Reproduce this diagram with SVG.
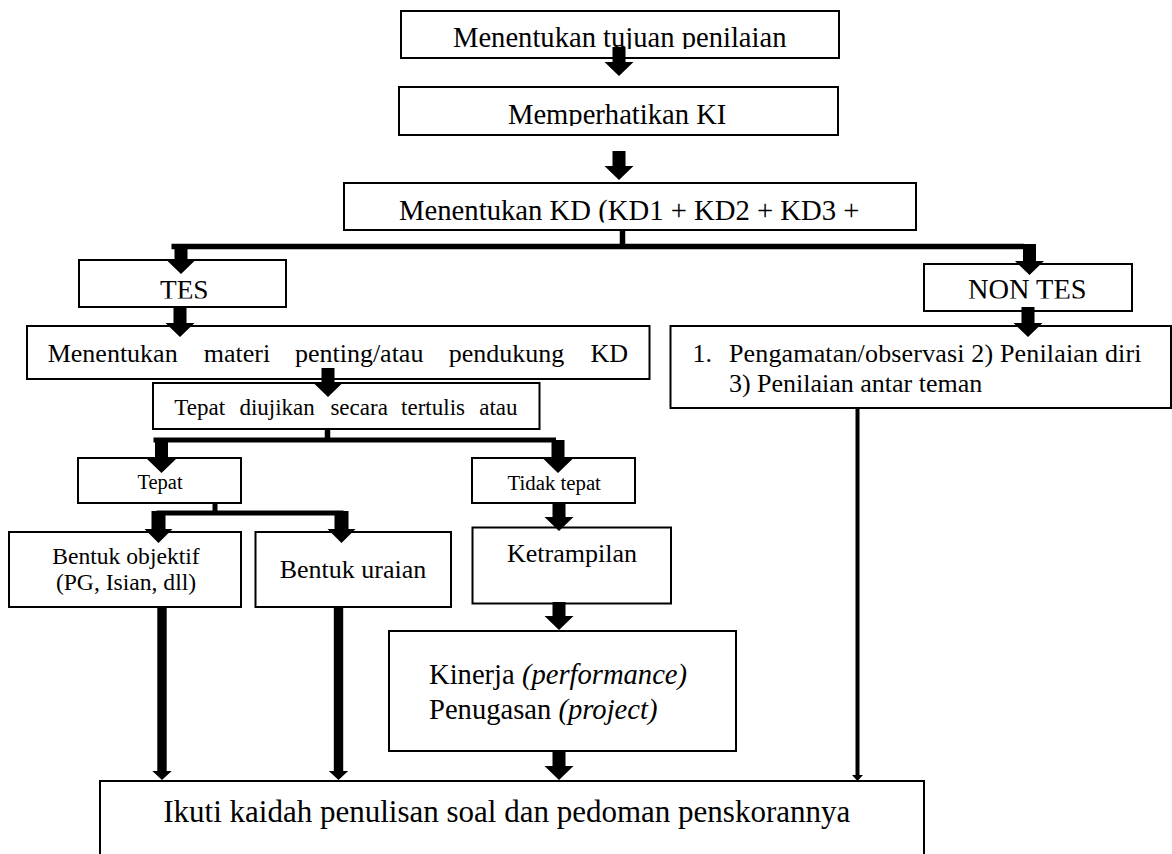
<svg xmlns="http://www.w3.org/2000/svg" width="1172" height="854" viewBox="0 0 1172 854">
<style>
  .box{fill:#fff;stroke:#000;stroke-width:2}
  .t{font-family:"Liberation Serif","Times New Roman",serif;fill:#000}
  .arr{fill:#000}
  .ln{stroke:#000;fill:none}
</style>
<defs>
  <clipPath id="c1"><rect x="400" y="10" width="440" height="39"/></clipPath>
  <clipPath id="c2"><rect x="398" y="86" width="441" height="40"/></clipPath>
  <clipPath id="c3"><rect x="343" y="182" width="574" height="40.5"/></clipPath>
  <clipPath id="c4"><rect x="78" y="259" width="209" height="39.5"/></clipPath>
  <clipPath id="c5"><rect x="923" y="263" width="210" height="35.5"/></clipPath>
</defs>
<rect width="1172" height="854" fill="#fff"/>

<g id="n1"><rect class="box" x="401" y="11" width="438" height="47"/>
  <text class="t" x="453" y="47" font-size="28.6" clip-path="url(#c1)">Menentukan tujuan penilaian</text></g>
<g id="n2"><rect class="box" x="399" y="87" width="439" height="48"/>
  <text class="t" x="508" y="124" font-size="28.6" clip-path="url(#c2)">Memperhatikan KI</text></g>
<g id="n3"><rect class="box" x="344" y="183" width="572" height="47"/>
  <text class="t" x="399" y="220" font-size="28.7" clip-path="url(#c3)">Menentukan KD (KD1 + KD2 + KD3 +</text></g>
<g id="tes"><rect class="box" x="79" y="260" width="207" height="47"/>
  <text class="t" x="160" y="299" font-size="27.3" clip-path="url(#c4)">TES</text></g>
<g id="nontes"><rect class="box" x="924" y="264" width="208" height="47"/>
  <text class="t" x="968" y="299" font-size="28.4" clip-path="url(#c5)">NON TES</text></g>
<g id="materi"><rect class="box" x="27" y="326" width="622.5" height="53"/>
  <text class="t" y="362" font-size="26"><tspan x="47.7">Menentukan</tspan><tspan x="203.8">materi</tspan><tspan x="294.9">penting/atau</tspan><tspan x="448.8">pendukung</tspan><tspan x="590.6">KD</tspan></text></g>
<g id="nontes-list"><rect class="box" x="670.5" y="326" width="500.5" height="82"/>
  <text class="t" x="692.6" y="362" font-size="26">1.</text>
  <text class="t" x="728.9" y="362" font-size="26" textLength="412.6" lengthAdjust="spacing">Pengamatan/observasi 2) Penilaian diri</text>
  <text class="t" x="728.9" y="392" font-size="26">3) Penilaian antar teman</text></g>
<g id="tertulis"><rect class="box" x="153" y="383" width="386.5" height="46"/>
  <text class="t" y="415" font-size="23"><tspan x="174.3">Tepat</tspan><tspan x="239.4">diujikan</tspan><tspan x="330.4">secara</tspan><tspan x="401.1">tertulis</tspan><tspan x="479.2">atau</tspan></text></g>
<g id="tepat"><rect class="box" x="78" y="458" width="163" height="45"/>
  <text class="t" x="160" y="489" font-size="20.5" text-anchor="middle">Tepat</text></g>
<g id="tidak-tepat"><rect class="box" x="472" y="458" width="163" height="45"/>
  <text class="t" x="507.5" y="490" font-size="20.8">Tidak tepat</text></g>
<g id="objektif"><rect class="box" x="9" y="532" width="232" height="75"/>
  <text class="t" x="126" y="564" font-size="23.6" text-anchor="middle">Bentuk objektif</text>
  <text class="t" x="126" y="590" font-size="23.6" text-anchor="middle">(PG, Isian, dll)</text></g>
<g id="uraian"><rect class="box" x="255.5" y="532" width="195.5" height="75"/>
  <text class="t" x="353" y="578" font-size="26" text-anchor="middle">Bentuk uraian</text></g>
<g id="ketrampilan"><rect class="box" x="472.5" y="527.5" width="198.5" height="76"/>
  <text class="t" x="507" y="562" font-size="26">Ketrampilan</text></g>
<g id="kinerja"><rect class="box" x="389" y="631" width="347" height="120"/>
  <text class="t" x="429" y="684" font-size="28.6">Kinerja <tspan font-style="italic">(performance)</tspan></text>
  <text class="t" x="429" y="719" font-size="28.6">Penugasan <tspan font-style="italic">(project)</tspan></text></g>
<g id="kaidah"><rect class="box" x="100" y="781" width="824" height="100"/>
  <text class="t" x="163.3" y="821.7" font-size="31">Ikuti kaidah penulisan soal dan pedoman penskorannya</text></g>

<g id="connectors">
  <line class="ln" x1="622.5" y1="230" x2="622.5" y2="248" stroke-width="5.5"/>
  <line class="ln" x1="171.5" y1="246.5" x2="1024" y2="246.5" stroke-width="5.5"/>
  <line class="ln" x1="327.5" y1="429" x2="327.5" y2="441" stroke-width="5.5"/>
  <line class="ln" x1="153.5" y1="440" x2="556" y2="440" stroke-width="5"/>
  <line class="ln" x1="215" y1="503" x2="215" y2="514" stroke-width="5"/>
  <line class="ln" x1="156.5" y1="513" x2="343.5" y2="513" stroke-width="5"/>
  <path class="arr" d="M612.5 47H625.5V62H633.5L619 76L604.5 62H612.5Z"/>
  <path class="arr" d="M612.5 151H625.5V166H633.5L619 180L604.5 166H612.5Z"/>
  <path class="arr" d="M174.5 244H187.5V260H195.5L181 274L166.5 260H174.5Z"/>
  <path class="arr" d="M1023 244H1036V261H1044L1029.5 275L1015 261H1023Z"/>
  <path class="arr" d="M1021.5 307H1034.5V323H1042.5L1028 337L1013.5 323H1021.5Z"/>
  <path class="arr" d="M173.5 307H186.5V323H194.5L180 337L165.5 323H173.5Z"/>
  <path class="arr" d="M321.5 368H334.5V383H342.5L328 397L313.5 383H321.5Z"/>
  <path class="arr" d="M155 440H168V459H176L161.5 473L147 459H155Z"/>
  <path class="arr" d="M551.5 440H564.5V459H572.5L558 473L543.5 459H551.5Z"/>
  <path class="arr" d="M151.5 511H165.5V529H172.5L158.5 543L144.5 529H151.5Z"/>
  <path class="arr" d="M334.5 511H348.5V529H355.5L341.5 543L327.5 529H334.5Z"/>
  <path class="arr" d="M552.5 503H565.5V517H573.5L559 531L544.5 517H552.5Z"/>
  <path class="arr" d="M552.5 602H565.5V616H573.5L559 630L544.5 616H552.5Z"/>
  <path class="arr" d="M552.5 752H565.5V766H573.5L559 780L544.5 766H552.5Z"/>
  <path class="arr" d="M157.3 607H166.7V771H171.7L162 780L152.3 771H157.3Z"/>
  <path class="arr" d="M333.8 607H343.2V771H348.2L338.5 780L328.8 771H333.8Z"/>
  <path class="arr" d="M855.5 408H859.5V775H863L857.5 781L852 775H855.5Z"/>
</g>
</svg>
